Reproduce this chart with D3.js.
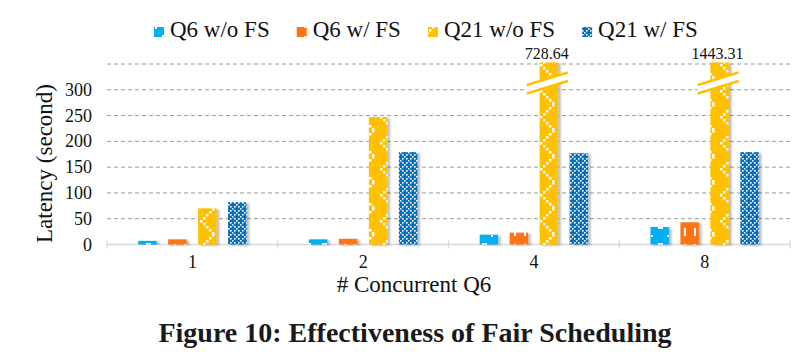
<!DOCTYPE html>
<html>
<head>
<meta charset="utf-8">
<script src="https://cdn.jsdelivr.net/npm/d3@7"></script>
<style>
  body { margin: 0; background: #fff; }
  svg text { font-family: "Liberation Serif", "Times New Roman", Times, serif; }
</style>
</head>
<body>
<svg width="806" height="360"></svg>
<script>
var svg = d3.select('svg');

// data
var categories = ['1', '2', '4', '8'];
var seriesNames = ['Q6 w/o FS', 'Q6 w/ FS', 'Q21 w/o FS', 'Q21 w/ FS'];
var q6NoFs = [7, 10, 19, 34];
var q6Fs = [10, 11, 23, 43];
var q21NoFs = [70, 247, 728.64, 1443.31];
var q21Fs = [82, 179, 177, 179];
var yTicks = [0, 50, 100, 150, 200, 250, 300];
var gridValues = [50, 100, 150, 200, 250, 300, 350];
var yMax = 350;

var seriesValues = [q6NoFs, q6Fs, q21NoFs, q21Fs];
var colors = ['#00B0F0', '#FF7512', '#FFC000', '#0070C0'];

var plot = {l: 107, r: 790, t: 64, b: 244.5};

var x0 = d3.scaleBand().domain(categories).range([plot.l, plot.r]).padding(0);
var x1 = d3.scaleBand().domain(d3.range(4)).range([0, x0.bandwidth()])
    .paddingInner(0.383).paddingOuter(1.04);
var y = d3.scaleLinear().domain([0, yMax]).range([plot.b, plot.t]);

// patterns + shadow
var defs = svg.append('defs');

var f = defs.append('filter').attr('id', 'shadow')
    .attr('x', '-20%').attr('y', '-5%').attr('width', '160%').attr('height', '115%');
f.append('feDropShadow').attr('dx', 2.5).attr('dy', 1).attr('stdDeviation', 1)
    .attr('flood-color', '#000').attr('flood-opacity', 0.28);

function pat(id, w, h, color) {
    var p = defs.append('pattern').attr('id', id)
        .attr('patternUnits', 'userSpaceOnUse')
        .attr('width', w).attr('height', h);
    p.append('rect').attr('width', w).attr('height', h).attr('fill', color);
    return p;
}
function dots(p, cells, s) {
    cells.forEach(function(c) {
        p.append('rect').attr('x', c[0]).attr('y', c[1]).attr('width', s).attr('height', s).attr('fill', '#fff');
    });
}

// cyan: solid with sparse white confetti
var p0 = pat('p0', 16, 16, colors[0]);
p0.append('rect').attr('x', 2).attr('y', 3).attr('width', 5).attr('height', 2).attr('fill', '#fff');
p0.append('rect').attr('x', 11).attr('y', 11).attr('width', 2).attr('height', 2).attr('fill', '#fff');

// orange: short white vertical dashes
var p1 = pat('p1', 10, 16, colors[1]);
p1.append('rect').attr('x', 4).attr('y', 4).attr('width', 2).attr('height', 8).attr('fill', '#fff');

// yellow: stepped white zigzag
var p2 = pat('p2', 20, 26, colors[2]);
dots(p2, [[0, 12], [3, 9], [6, 6], [9, 3], [12, 0], [3, 15], [6, 18], [9, 21], [12, 24]], 2.5);

// blue: white diagonal lattice
var p3 = pat('p3', 8, 8, colors[3]);
dots(p3, [[0, 0], [2, 2], [4, 4], [6, 6], [2, 6], [6, 2]], 1.6);

// gridlines
svg.append('g').selectAll('line').data(gridValues).enter().append('line')
    .attr('x1', plot.l).attr('x2', plot.r)
    .attr('y1', function(d) { return y(d); }).attr('y2', function(d) { return y(d); })
    .attr('stroke', '#9a9a9a').attr('stroke-width', 1).attr('stroke-dasharray', '4,3');

// y tick labels
svg.append('g').selectAll('text').data(yTicks).enter().append('text')
    .attr('x', 92).attr('y', function(d) { return y(d) + 6; })
    .attr('text-anchor', 'end').attr('font-size', 18).attr('fill', '#111')
    .text(function(d) { return d; });

// x axis line + separators
svg.append('line').attr('x1', plot.l).attr('x2', plot.r).attr('y1', plot.b).attr('y2', plot.b)
    .attr('stroke', '#d9d9d9').attr('stroke-width', 1.3);
var seps = categories.map(function(c) { return x0(c); }).concat([plot.r]);
svg.append('g').selectAll('line').data(seps).enter().append('line')
    .attr('x1', function(d) { return d; }).attr('x2', function(d) { return d; })
    .attr('y1', plot.b - 4).attr('y2', plot.b + 4)
    .attr('stroke', '#d9d9d9').attr('stroke-width', 1.3);

// category labels
svg.append('g').selectAll('text').data(categories).enter().append('text')
    .attr('x', function(d) { return x0(d) + x0.bandwidth() / 2; })
    .attr('y', 268).attr('text-anchor', 'middle').attr('font-size', 18).attr('fill', '#111')
    .text(function(d) { return d; });

// bars
var rows = [];
categories.forEach(function(c, i) {
    seriesValues.forEach(function(vals, s) {
        rows.push({cat: c, s: s, v: vals[i]});
    });
});

svg.append('g').selectAll('rect').data(rows).enter().append('rect')
    .attr('x', function(d) { return x0(d.cat) + x1(d.s); })
    .attr('width', x1.bandwidth())
    .attr('y', function(d) { return y(Math.min(d.v, yMax + 3)); })
    .attr('height', function(d) { return y(0) - y(Math.min(d.v, yMax + 3)); })
    .attr('fill', function(d) { return 'url(#p' + d.s + ')'; })
    .attr('filter', 'url(#shadow)');

// broken bars: break marks + value labels
var broken = rows.filter(function(d) { return d.v > yMax; });
var brk = svg.append('g').selectAll('g').data(broken).enter().append('g')
    .attr('transform', function(d) {
        return 'translate(' + (x0(d.cat) + x1(d.s) + x1.bandwidth() / 2) + ',0)';
    });
brk.append('polygon')
    .attr('points', '-22,85 19,73 19,81 -22,93')
    .attr('fill', '#fff');
brk.append('line').attr('x1', -22).attr('y1', 85).attr('x2', 19).attr('y2', 72.5)
    .attr('stroke', colors[2]).attr('stroke-width', 2.6);
brk.append('line').attr('x1', -22).attr('y1', 93.5).attr('x2', 19).attr('y2', 81)
    .attr('stroke', colors[2]).attr('stroke-width', 2.6);
brk.append('text').attr('x', -2).attr('y', 59).attr('text-anchor', 'middle')
    .attr('font-size', 16).attr('fill', '#111')
    .text(function(d) { return d.v.toFixed(2); });

// legend
var lg = svg.append('g');
var lx = 154;
seriesNames.forEach(function(name, i) {
    lg.append('rect').attr('x', lx).attr('y', 27).attr('width', 10).attr('height', 10)
        .attr('fill', 'url(#p' + i + ')');
    var t = lg.append('text').attr('x', lx + 16).attr('y', 36.5)
        .attr('font-size', 23).attr('fill', '#111').text(name);
    lx += 16 + t.node().getComputedTextLength() + 27;
});

// axis titles
svg.append('text').attr('transform', 'translate(52,163.5) rotate(-90)')
    .attr('text-anchor', 'middle').attr('font-size', 23).attr('fill', '#111')
    .text('Latency (second)');
svg.append('text').attr('x', 414).attr('y', 292)
    .attr('text-anchor', 'middle').attr('font-size', 23).attr('fill', '#111')
    .text('# Concurrent Q6');

// caption
svg.append('text').attr('x', 415).attr('y', 342)
    .attr('text-anchor', 'middle').attr('font-size', 28).attr('font-weight', 'bold')
    .attr('fill', '#1a1a1a')
    .text('Figure 10: Effectiveness of Fair Scheduling');
</script>
</body>
</html>
